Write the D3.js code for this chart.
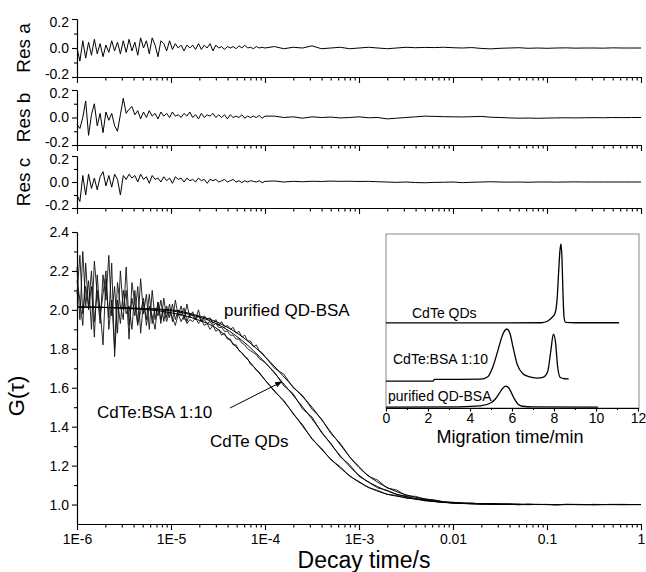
<!DOCTYPE html>
<html>
<head>
<meta charset="utf-8">
<script src="https://cdn.jsdelivr.net/npm/d3@7"></script>
<style>
  body { margin: 0; background: #fff; }
  svg { font-family: "Liberation Sans", Arial, sans-serif; }
  .axis path, .axis line { stroke: #000; stroke-width: 1.1; }
  .axis text { font-size: 14px; fill: #000; }
</style>
</head>
<body>
<div id="chart"></div>
<script>
/* ---- data ---- */

// decay times of the fitted curves (s)
var fitTimes = [1e-6, 3.16e-6, 1e-5, 1.78e-5, 3.16e-5, 5.62e-5, 1e-4, 1.78e-4, 3.16e-4,
                5.62e-4, 1e-3, 1.78e-3, 3.16e-3, 5.62e-3, 1e-2, 3.16e-2, 0.1, 1];
var fitPurified = [2.015, 2.01, 2.0, 1.975, 1.935, 1.865, 1.76, 1.63, 1.5, 1.34, 1.19, 1.10, 1.05, 1.025, 1.01, 1.003, 1.0, 1.0];
var fitMix      = [2.015, 2.01, 1.995, 1.97, 1.925, 1.845, 1.73, 1.59, 1.44, 1.28, 1.15, 1.08, 1.04, 1.02, 1.008, 1.002, 1.0, 1.0];
var fitQD       = [2.015, 2.008, 1.985, 1.955, 1.9, 1.78, 1.64, 1.5, 1.34, 1.21, 1.115, 1.06, 1.035, 1.018, 1.008, 1.002, 1.0, 1.0];

// measured G(tau): 66 samples from 1E-6 to 1E-4, then 41 samples from 1E-4 to 1 (log spaced)
var gPurifiedEarly = [2.22, 1.95, 2.30, 2.02, 2.15, 1.90, 2.25, 2.08, 1.93, 2.18,
  2.05, 2.28, 1.97, 2.12, 1.88, 2.20, 2.00, 2.10, 1.85, 2.14,
  2.03, 1.92, 2.16, 1.98, 2.08, 1.90, 2.10, 1.95, 2.04, 1.93,
  2.06, 1.96, 2.03, 1.94, 2.05, 1.97, 2.02, 1.95, 2.03, 1.96,
  1.99, 1.95, 2.00, 1.94, 1.97, 1.95, 1.96, 1.93, 1.95, 1.92,
  1.94, 1.91, 1.92, 1.90, 1.91, 1.88, 1.89, 1.86, 1.87, 1.84,
  1.84, 1.81, 1.82, 1.79, 1.78, 1.76];
var gPurifiedLate = [1.77, 1.70, 1.67, 1.60, 1.56, 1.49, 1.44, 1.365, 1.315, 1.245,
  1.195, 1.145, 1.125, 1.085, 1.075, 1.045, 1.042, 1.028, 1.024, 1.014,
  1.012, 1.006, 1.008, 1.002, 1.005, 1.0, 1.003, 0.999, 1.002, 1.0,
  1.001, 0.998, 1.001, 1.0, 0.999, 1.001, 1.0, 1.0, 0.999, 1.0, 1.0];

var gMixEarly = [2.15, 2.05, 1.92, 2.24, 2.00, 2.12, 1.86, 2.18, 1.97, 2.08,
  2.20, 1.90, 2.05, 1.80, 2.14, 2.02, 1.95, 2.22, 1.92, 2.06,
  1.97, 2.12, 1.88, 2.04, 1.95, 2.08, 1.93, 2.01, 1.97, 2.05,
  1.94, 2.02, 1.96, 2.03, 1.95, 2.00, 1.97, 2.01, 1.94, 1.98,
  1.97, 1.95, 1.97, 1.94, 1.95, 1.93, 1.94, 1.92, 1.93, 1.91,
  1.91, 1.89, 1.89, 1.87, 1.87, 1.85, 1.85, 1.83, 1.82, 1.80,
  1.79, 1.78, 1.77, 1.75, 1.74, 1.73];
var gMixLate = [1.72, 1.68, 1.61, 1.57, 1.49, 1.45, 1.37, 1.315, 1.245, 1.205,
  1.145, 1.115, 1.085, 1.073, 1.052, 1.043, 1.03, 1.026, 1.015, 1.013,
  1.007, 1.006, 1.003, 1.004, 1.0, 1.002, 1.0, 1.001, 0.999, 1.001,
  1.0, 0.999, 1.0, 1.001, 1.0, 0.999, 1.0, 1.0, 1.001, 1.0, 1.0];

var gQDEarly = [2.08, 2.28, 1.98, 2.12, 2.02, 2.20, 1.94, 2.10, 2.00, 1.82,
  2.16, 1.96, 2.24, 1.76, 2.05, 1.93, 2.10, 1.98, 2.02, 1.90,
  2.10, 1.93, 1.99, 2.06, 1.92, 2.02, 1.97, 1.90, 2.04, 1.95,
  2.00, 1.94, 1.99, 1.96, 1.92, 1.98, 1.94, 1.97, 1.93, 1.95,
  1.94, 1.96, 1.93, 1.95, 1.92, 1.93, 1.90, 1.92, 1.89, 1.90,
  1.87, 1.88, 1.85, 1.85, 1.82, 1.82, 1.79, 1.78, 1.76, 1.75,
  1.72, 1.71, 1.69, 1.68, 1.66, 1.64];
var gQDLate = [1.645, 1.58, 1.535, 1.465, 1.41, 1.335, 1.29, 1.23, 1.195, 1.145,
  1.118, 1.087, 1.072, 1.052, 1.047, 1.033, 1.03, 1.019, 1.016, 1.01,
  1.009, 1.005, 1.004, 1.002, 1.003, 1.0, 1.001, 0.999, 1.001, 1.0,
  1.0, 0.999, 1.001, 1.0, 1.0, 0.999, 1.0, 1.001, 1.0, 1.0, 1.0];

// residuals, same sampling
var resAEarly = [0.00, -0.09, 0.05, -0.07, 0.04, -0.05, 0.06, -0.04, 0.03, -0.06,
  0.02, -0.03, 0.05, -0.02, 0.04, -0.04, 0.05, -0.03, 0.06, -0.02,
  0.04, -0.05, 0.07, 0.00, 0.05, -0.04, 0.07, 0.02, -0.06, 0.05,
  0.03, -0.02, 0.05, -0.01, 0.03, 0.00, 0.02, -0.02, 0.02, 0.00,
  0.02, -0.01, 0.03, -0.01, 0.02, 0.00, 0.03, -0.02, 0.02, 0.00,
  0.01, -0.01, 0.01, 0.00, 0.01, -0.005, 0.015, 0.0, 0.02, 0.0,
  0.005, -0.005, 0.01, 0.0, 0.005, 0.0];
var resALate = [0.0, 0.01, -0.005, 0.005, 0.0, 0.015, -0.005, 0.0, 0.005, -0.005,
  0.0, 0.005, 0.0, -0.005, 0.0, 0.005, 0.002, 0.004, 0.003, 0.005,
  0.002, 0.0, 0.003, -0.003, -0.006, -0.002, 0.0, 0.002, -0.002, 0.0,
  -0.002, 0.0, 0.001, -0.001, 0.0, 0.0, -0.001, 0.001, 0.0, 0.0, 0.0];

var resBEarly = [-0.05, -0.08, 0.0, 0.12, -0.13, 0.02, 0.10, -0.06, 0.03, -0.11,
  0.04, -0.02, 0.03, -0.06, -0.10, 0.02, 0.14, 0.03, 0.06, 0.08,
  0.02, 0.05, -0.01, 0.04, 0.00, 0.05, 0.01, 0.03, -0.01, 0.04,
  0.01, 0.03, 0.00, 0.04, 0.01, 0.02, 0.00, 0.03, 0.01, 0.04,
  0.00, 0.02, -0.01, 0.03, 0.00, 0.02, 0.01, 0.03, 0.00, 0.02,
  0.00, 0.02, -0.01, 0.02, 0.00, 0.01, 0.00, 0.02, -0.005, 0.01,
  0.00, 0.01, 0.00, 0.015, -0.005, 0.01];
var resBLate = [0.005, 0.01, 0.0, 0.005, -0.005, 0.005, 0.0, 0.003, -0.003, 0.0,
  0.005, -0.002, 0.0, -0.01, -0.005, 0.0, 0.005, 0.01, 0.008, 0.006,
  0.005, 0.004, 0.006, 0.008, 0.002, 0.0, -0.003, -0.005, -0.004, -0.006,
  -0.004, -0.003, -0.002, -0.003, -0.002, -0.001, -0.002, 0.0, -0.001, 0.0, 0.0];

var resCEarly = [-0.10, -0.15, 0.05, -0.10, 0.06, -0.05, 0.03, -0.06, 0.04, 0.08,
  -0.03, 0.05, -0.04, 0.06, 0.02, -0.10, 0.05, 0.02, 0.06, 0.03,
  0.05, 0.00, 0.06, 0.02, 0.04, -0.01, 0.05, 0.02, 0.03, 0.00,
  0.04, 0.01, 0.03, -0.01, 0.04, 0.02, 0.03, 0.00, 0.03, 0.01,
  0.02, 0.00, 0.03, 0.01, 0.02, -0.01, 0.02, 0.01, 0.02, 0.00,
  0.01, 0.02, 0.00, 0.01, 0.02, 0.00, 0.01, -0.005, 0.01, 0.0,
  0.01, 0.005, 0.0, 0.01, -0.005, 0.005];
var resCLate = [0.005, 0.008, 0.0, 0.005, 0.002, 0.006, 0.004, 0.007, 0.005, 0.006,
  0.004, 0.005, 0.002, 0.0, -0.003, 0.0, -0.004, -0.006, -0.003, -0.002,
  0.0, -0.005, -0.002, 0.0, 0.002, 0.0, -0.001, 0.0, -0.002, 0.0,
  0.0, -0.001, 0.0, 0.001, 0.0, 0.0, 0.0, 0.0, 0.0, 0.0, 0.0];

// inset: capillary electrophoresis traces (time in min, offset intensity)
var ceQDTime  = [0, 7.4, 7.7, 7.9, 8.05, 8.15, 8.22, 8.28, 8.33, 8.38, 8.43, 8.48, 8.55, 9.0, 11.1];
var ceQDValue = [4.89, 4.9, 5.0, 5.2, 5.45, 6.3, 7.8, 9.0, 9.43, 8.6, 6.5, 5.2, 4.92, 4.9, 4.9];
var ceMixTime  = [0, 2.25, 2.3, 4.5, 4.85, 5.1, 5.35, 5.55, 5.75, 5.9, 6.05, 6.25, 6.5, 6.8, 7.2,
                  7.5, 7.7, 7.85, 7.97, 8.07, 8.17, 8.3, 8.5, 8.7];
var ceMixValue = [1.55, 1.55, 1.64, 1.66, 1.8, 2.4, 3.4, 4.2, 4.54, 4.3, 3.5, 2.5, 2.0, 1.8, 1.72,
                  1.78, 2.1, 3.3, 4.25, 3.8, 2.4, 1.75, 1.68, 1.67];
var cePurTime  = [0, 3.5, 4.5, 5.0, 5.2, 5.4, 5.55, 5.7, 5.85, 6.0, 6.15, 6.3, 6.5, 7.0, 10.1];
var cePurValue = [0.05, 0.07, 0.12, 0.3, 0.5, 0.85, 1.12, 1.26, 1.15, 0.8, 0.45, 0.2, 0.1, 0.06, 0.05];

// tick labels
var decadeTicks = [1e-6, 1e-5, 1e-4, 1e-3, 0.01, 0.1, 1];
var decadeLabels = ["1E-6", "1E-5", "1E-4", "1E-3", "0.01", "0.1", "1"];
var gTicks = [1.0, 1.2, 1.4, 1.6, 1.8, 2.0, 2.2, 2.4];
var gMinor = [1.1, 1.3, 1.5, 1.7, 1.9, 2.1, 2.3];
var resTicks = [-0.2, 0.0, 0.2];
var resMinor = [-0.1, 0.1];
var ceTicks = [0, 2, 4, 6, 8, 10, 12];
var ceMinor = [1, 3, 5, 7, 9, 11];

/* ---- layout ---- */
var W = 646, H = 572;
var svg = d3.select("#chart").append("svg").attr("width", W).attr("height", H);

var x = d3.scaleLog().domain([1e-6, 1]).range([77, 641]);
var y = d3.scaleLinear().domain([0.9, 2.4]).range([524, 232]);

// sampling grid of the measured curves
var earlyT = d3.range(66).map(function(i){ return Math.pow(10, -6 + i * 2 / 65); });
var lateT = d3.range(41).map(function(i){ return Math.pow(10, -4 + i * 0.1); });
var minorT = [];
decadeTicks.slice(0, -1).forEach(function(d){ for (var k = 2; k <= 9; k++) minorT.push(d * k); });

function pts(early, late) {
  return earlyT.map(function(t, i){ return [t, early[i]]; })
    .concat(lateT.slice(1).map(function(t, i){ return [t, late[i + 1]]; }));
}

/* ---- residual panels ---- */
var panels = [
  { name: "Res a", early: resAEarly, late: resALate, top: 19, bottom: 77 },
  { name: "Res b", early: resBEarly, late: resBLate, top: 90, bottom: 145 },
  { name: "Res c", early: resCEarly, late: resCLate, top: 156, bottom: 208 }
];

panels.forEach(function(p){
  var ry = d3.scaleLinear().domain([-0.2, 0.2]).range([p.bottom, p.top]);
  var g = svg.append("g");

  g.append("g").attr("class", "axis").attr("transform", "translate(0," + p.bottom + ")")
    .call(d3.axisBottom(x).tickValues(minorT).tickSize(3.5).tickFormat("").tickSizeOuter(0));
  g.append("g").attr("class", "axis").attr("transform", "translate(0," + p.bottom + ")")
    .call(d3.axisBottom(x).tickValues(decadeTicks).tickSize(6).tickFormat("").tickSizeOuter(0));
  g.append("g").attr("class", "axis").attr("transform", "translate(77,0)")
    .call(d3.axisLeft(ry).tickValues(resMinor).tickSize(3).tickFormat("").tickSizeOuter(0));
  g.append("g").attr("class", "axis").attr("transform", "translate(77,0)")
    .call(d3.axisLeft(ry).tickValues(resTicks).tickSize(5).tickSizeOuter(0)
      .tickFormat(function(d){ return d.toFixed(1); }))
    .selectAll("text")
      .attr("font-size", 13)
      .attr("dy", function(d){ return d > 0 ? "0.5em" : (d < 0 ? "0.1em" : "0.32em"); });

  g.append("path")
    .datum(pts(p.early, p.late))
    .attr("fill", "none").attr("stroke", "#000").attr("stroke-width", 1)
    .attr("d", d3.line().x(function(d){ return x(d[0]); }).y(function(d){ return ry(d[1]); }));

  g.append("text")
    .attr("transform", "translate(30," + ((p.top + p.bottom) / 2) + ") rotate(-90)")
    .attr("text-anchor", "middle").attr("font-size", 19).text(p.name);
});

/* ---- main correlation plot ---- */
var main = svg.append("g");
main.append("g").attr("class", "axis").attr("transform", "translate(0,524)")
  .call(d3.axisBottom(x).tickValues(minorT).tickSize(3.5).tickFormat("").tickSizeOuter(0));
main.append("g").attr("class", "axis").attr("transform", "translate(0,524)")
  .call(d3.axisBottom(x).tickValues(decadeTicks).tickSize(6).tickSizeOuter(0)
    .tickFormat(function(d, i){ return decadeLabels[i]; }))
  .selectAll("text").attr("font-size", 15).attr("dy", "0.75em");
main.append("g").attr("class", "axis").attr("transform", "translate(77,0)")
  .call(d3.axisLeft(y).tickValues(gMinor).tickSize(3).tickFormat("").tickSizeOuter(0));
main.append("g").attr("class", "axis").attr("transform", "translate(77,0)")
  .call(d3.axisLeft(y).tickValues(gTicks).tickSize(5).tickSizeOuter(0)
    .tickFormat(function(d){ return d.toFixed(1); }));

var line = d3.line().x(function(d){ return x(d[0]); }).y(function(d){ return y(d[1]); });
var fitLine = d3.line().curve(d3.curveMonotoneX)
  .x(function(d){ return x(d[0]); }).y(function(d){ return y(d[1]); });

[[gPurifiedEarly, gPurifiedLate], [gMixEarly, gMixLate], [gQDEarly, gQDLate]].forEach(function(s){
  main.append("path").datum(pts(s[0], s[1]))
    .attr("fill", "none").attr("stroke", "#111").attr("stroke-width", 0.9).attr("d", line);
});
[fitPurified, fitMix, fitQD].forEach(function(f){
  main.append("path").datum(fitTimes.map(function(t, i){ return [t, f[i]]; }))
    .attr("fill", "none").attr("stroke", "#000").attr("stroke-width", 1).attr("d", fitLine);
});

main.append("text").attr("transform", "translate(24,396) rotate(-90)")
  .attr("text-anchor", "middle").attr("font-size", 22).text("G(τ)");
main.append("text").attr("x", 364).attr("y", 568)
  .attr("text-anchor", "middle").attr("font-size", 23).text("Decay time/s");

main.append("text").attr("x", 224).attr("y", 316).attr("font-size", 17).text("purified QD-BSA");
main.append("text").attr("x", 97).attr("y", 418).attr("font-size", 17).text("CdTe:BSA 1:10");
main.append("text").attr("x", 210).attr("y", 447).attr("font-size", 17).text("CdTe QDs");

svg.append("defs").append("marker")
  .attr("id", "arrow").attr("viewBox", "0 0 10 10").attr("refX", 9).attr("refY", 5)
  .attr("markerWidth", 7).attr("markerHeight", 7).attr("orient", "auto")
  .append("path").attr("d", "M0,1 L10,5 L0,9 Z").attr("fill", "#000");
main.append("line")
  .attr("x1", 230).attr("y1", 408).attr("x2", x(1.5e-4)).attr("y2", y(1.63))
  .attr("stroke", "#000").attr("stroke-width", 1).attr("marker-end", "url(#arrow)");

/* ---- inset ---- */
var ix = d3.scaleLinear().domain([0, 12]).range([386, 638]);
var iy = d3.scaleLinear().domain([0, 10]).range([408, 234]);
var inset = svg.append("g");
inset.append("rect").attr("x", 386).attr("y", 234).attr("width", 253).attr("height", 174)
  .attr("fill", "#fff").attr("stroke", "#888").attr("stroke-width", 1);

inset.append("g").attr("class", "axis").attr("transform", "translate(0,408)")
  .call(d3.axisBottom(ix).tickValues(ceMinor).tickSize(2).tickFormat("").tickSizeOuter(0));
inset.append("g").attr("class", "axis").attr("transform", "translate(0,408)")
  .call(d3.axisBottom(ix).tickValues(ceTicks).tickSize(3.5).tickSizeOuter(0))
  .selectAll("text").attr("font-size", 13).attr("dy", "0.6em");

var ceLine = d3.line().curve(d3.curveMonotoneX)
  .x(function(d){ return ix(d[0]); }).y(function(d){ return iy(d[1]); });
[[ceQDTime, ceQDValue], [ceMixTime, ceMixValue], [cePurTime, cePurValue]].forEach(function(s){
  inset.append("path").datum(s[0].map(function(t, i){ return [t, s[1][i]]; }))
    .attr("fill", "none").attr("stroke", "#000").attr("stroke-width", 1.3).attr("d", ceLine);
});

inset.append("text").attr("x", 412).attr("y", 318).attr("font-size", 14).text("CdTe QDs");
inset.append("text").attr("x", 393).attr("y", 364).attr("font-size", 14).text("CdTe:BSA 1:10");
inset.append("text").attr("x", 388).attr("y", 401).attr("font-size", 14).text("purified QD-BSA");
inset.append("text").attr("x", 510).attr("y", 443).attr("text-anchor", "middle")
  .attr("font-size", 18).text("Migration time/min");
</script>
</body>
</html>
